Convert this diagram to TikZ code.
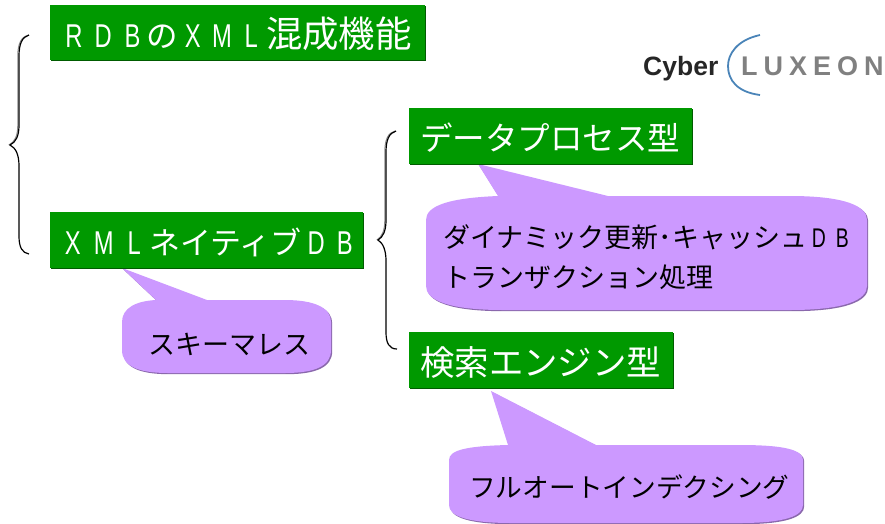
\documentclass[tikz,border=0pt]{standalone}
\usepackage{fontspec}
\setmainfont{Noto Sans CJK JP}
\newfontfamily\logofont{Liberation Sans}
\newfontfamily\narrowlatin[FakeStretch=0.72]{Liberation Sans}
\newcommand\lc[2]{\makebox[#1pt][c]{\narrowlatin\fontsize{33}{33}\selectfont #2}}
\newcommand\lcs[2]{\makebox[#1pt][c]{\narrowlatin #2}}
\newcommand\fsz[1]{\fontsize{#1}{#1}\selectfont}
\definecolor{boxgreen}{HTML}{009900}
\definecolor{boxdark}{HTML}{005C00}
\definecolor{calloutfill}{HTML}{CC99FF}
\definecolor{calloutdark}{HTML}{8A68AC}
\definecolor{logoblue}{HTML}{4A84B8}
\tikzset{
  titlebox/.style={fill=boxgreen,anchor=north west,inner sep=0pt,outer sep=0pt},
  titletext/.style={anchor=west,inner sep=0pt,text=white},
  bubble/.style={fill=calloutfill},
  bubbleshadow/.style={fill=calloutdark},
  calltext/.style={anchor=west,inner sep=0pt,align=left,font=\fsz{27},text=black},
  bracestroke/.style={draw=black,line width=1.2pt},
  braceghost/.style={draw=black!45,line width=1pt}
}
\begin{document}
\begin{tikzpicture}[x=1pt,y=-1pt]
\useasboundingbox (0,0) rectangle (885,523);
% callouts
\def\pathA{(122,268) -- (207,300) -- (285,300) .. controls (315,300) and (331,308) .. (331,322) -- (331,350) .. controls (331,366) and (315,373) .. (285,373) -- (168,373) .. controls (138,373) and (122,366) .. (122,350) -- (122,322) .. controls (122,308) and (136,301) .. (156,300) -- cycle}
\def\pathB{(478,164) -- (608,196) -- (790,196) .. controls (845,196) and (867,206) .. (867,220) -- (867,286) .. controls (867,300) and (845,310) .. (790,310) -- (503,310) .. controls (448,310) and (426,300) .. (426,286) -- (426,220) .. controls (426,206) and (448,198) .. (498,196) -- cycle}
\def\pathC{(491,391) -- (596,445) -- (740,445) .. controls (785,445) and (803,450) .. (803,460) -- (803,505) .. controls (803,516) and (785,523) .. (740,523) -- (512,523) .. controls (467,523) and (449,516) .. (449,505) -- (449,460) .. controls (449,450) and (467,446) .. (508,445) -- cycle}
\fill[bubbleshadow,shift={(1.2,1.2)}] \pathA;
\fill[bubble] \pathA;
\fill[bubbleshadow,shift={(1.2,1.2)}] \pathB;
\fill[bubble] \pathB;
\fill[bubbleshadow,shift={(1.2,1.2)}] \pathC;
\fill[bubble] \pathC;
% green boxes
\fill[boxdark] (51,6) rectangle (426,61);
\node[titlebox,minimum width=375pt,minimum height=55pt] (rdb) at (50,5) {};
\node[titletext] (rdbt) at (59,34) {\fsz{31.5}\lc{29.3}{R}\lc{29.3}{D}\lc{29.3}{B}\makebox[31pt][c]{の}\lc{29.3}{X}\lc{29.3}{M}\lc{29.3}{L}\fsz{36.4}混成機能};
\fill[boxdark] (51,213) rectangle (364,269);
\node[titlebox,minimum width=313pt,minimum height=56pt] (xml) at (50,212) {};
\node[titletext] (xmlt) at (57,242) {\fsz{31}\lc{31}{X}\lc{31}{M}\lc{30}{L}ネイティブ\lc{29}{D}\lc{28}{B}};
\fill[boxdark] (410,109) rectangle (693,165);
\node[titlebox,minimum width=283pt,minimum height=56pt] (proc) at (409,108) {};
\node[titletext,font=\fsz{32.5}] (proct) at (420,138) {データプロセス型};
\fill[boxdark] (410,333) rectangle (674,389);
\node[titlebox,minimum width=264pt,minimum height=56pt] (srch) at (409,332) {};
\node[titletext,font=\fsz{34.4}] (srcht) at (420,362) {検索エンジン型};
% callout text
\node[calltext] (t1) at (148,344) {スキーマレス};
\node[calltext] (t2) at (443,260) {\begin{tabular}{@{}l@{}}ダイナミック更新･キャッシュ\lcs{23.5}{D}\lcs{23.5}{B}\\[9pt]トランザクション処理\end{tabular}};
\node[calltext,font=\fsz{26.7}] (t3) at (469,487) {フルオートインデクシング};
% braces
\draw[braceghost,shift={(-1.2,0)}] (30,35) .. controls (22,37) and (19,44) .. (19,56) -- (19,125) .. controls (19,136) and (16,142) .. (10,145);
\draw[bracestroke] (29,35) .. controls (22,37) and (19,44) .. (19,56) -- (19,125) .. controls (19,136) and (16,142) .. (10,145) .. controls (16,148) and (19,155) .. (19,166) -- (19,236) .. controls (19,247) and (22,253) .. (29,254);
\draw[braceghost,shift={(-1.2,0)}] (396,131) .. controls (389,133) and (386,140) .. (386,152) -- (386,220) .. controls (386,231) and (383,237) .. (378,240);
\draw[bracestroke] (396,131) .. controls (389,133) and (386,140) .. (386,152) -- (386,220) .. controls (386,231) and (383,237) .. (378,240) .. controls (383,243) and (386,250) .. (386,261) -- (386,332) .. controls (386,343) and (389,349) .. (397,349);
% logo
\draw[logoblue,line width=1.8pt] (760,35) .. controls (737,40) and (728,54) .. (728,66) .. controls (728,80) and (737,92) .. (760,95);
\node[anchor=base west,inner sep=0pt,font=\logofont\bfseries\fsz{26.5},text=black!85] (cy) at (643,75) {Cyber};
\node[anchor=base west,inner sep=0pt,font=\logofont\bfseries\fsz{27},text=black!50] (lx) at (741,75) {L\hspace{6pt}U\hspace{6pt}X\hspace{6pt}E\hspace{6pt}O\hspace{6pt}N};
\end{tikzpicture}
\end{document}
